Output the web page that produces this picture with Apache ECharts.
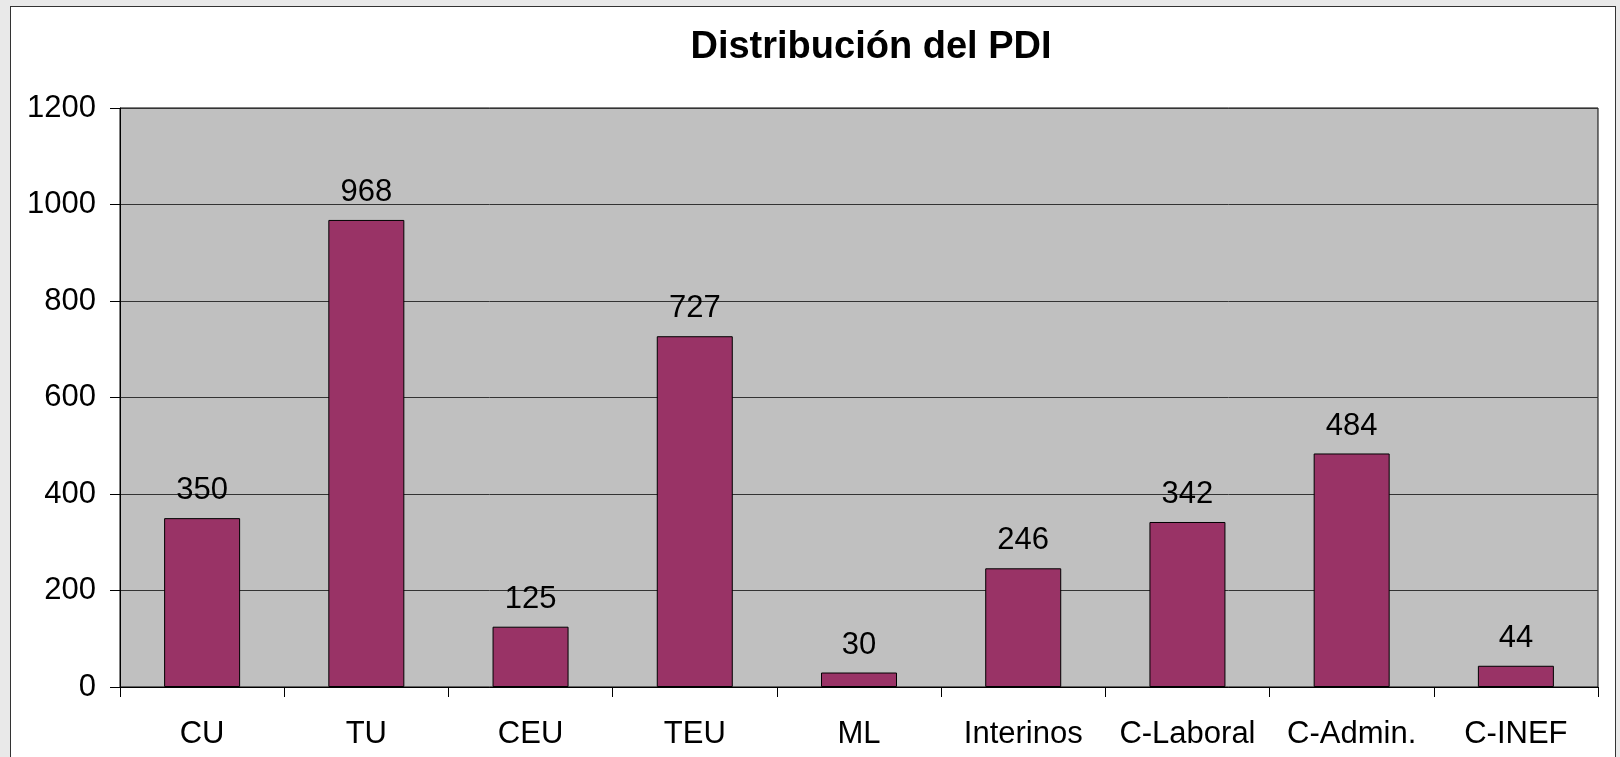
<!DOCTYPE html>
<html>
<head>
<meta charset="utf-8">
<title>Distribución del PDI</title>
<script src="https://cdn.jsdelivr.net/npm/echarts@6/dist/echarts.min.js"></script>
<style>
  html, body { margin: 0; padding: 0; background: #e9e9e9; overflow: hidden; }
  #panel { position: absolute; left: 10px; top: 6px; width: 1606px; height: 760px;
           background: #fff; border: 1px solid #333; box-sizing: border-box; }
  #main { position: absolute; left: 0; top: 0; width: 1620px; height: 757px; }
</style>
</head>
<body>
<div id="panel"></div>
<div id="main"></div>
<script>
// categories and values
var categories = ['CU', 'TU', 'CEU', 'TEU', 'ML', 'Interinos', 'C-Laboral', 'C-Admin.', 'C-INEF'];
var values = [350, 968, 125, 727, 30, 246, 342, 484, 44];
var yTicks = [0, 200, 400, 600, 800, 1000, 1200];

var font = "'Liberation Sans', Arial, sans-serif";

var myChart = echarts.init(document.getElementById('main'), null, { renderer: 'canvas' });

var option = {
  animation: false,
  title: {
    text: 'Distribución del PDI',
    left: 866,
    top: 24,
    textAlign: 'center',
    textStyle: { fontFamily: font, fontSize: 38, fontWeight: 'bold', color: '#000' }
  },
  grid: {
    left: 120, top: 108, right: 22, bottom: 70,
    show: true,
    backgroundColor: '#c0c0c0',
    borderColor: '#000',
    borderWidth: 1
  },
  xAxis: {
    type: 'category',
    data: categories,
    axisLine: { lineStyle: { color: '#000', width: 1 } },
    axisTick: { show: true, interval: 0, length: 10, lineStyle: { color: '#000' } },
    axisLabel: { interval: 0, hideOverlap: false, margin: 32, fontFamily: font, fontSize: 31, color: '#000' }
  },
  yAxis: {
    type: 'value',
    min: yTicks[0],
    max: yTicks[yTicks.length - 1],
    interval: yTicks[1] - yTicks[0],
    axisLine: { show: true, lineStyle: { color: '#000' } },
    axisTick: { show: true, length: 10, lineStyle: { color: '#000' } },
    axisLabel: {
      margin: 24, fontFamily: font, fontSize: 31, color: '#000',
      formatter: function (v) { return String(v); }
    },
    splitLine: { show: true, lineStyle: { color: '#333', width: 1 } }
  },
  series: [{
    type: 'bar',
    data: values,
    barWidth: 76,
    itemStyle: { color: '#993366', borderColor: '#000', borderWidth: 1 },
    label: {
      show: true,
      position: 'top',
      distance: 12,
      fontFamily: font,
      fontSize: 31,
      color: '#000'
    }
  }]
};

myChart.setOption(option);
window.addEventListener('resize', myChart.resize);
</script>
</body>
</html>
